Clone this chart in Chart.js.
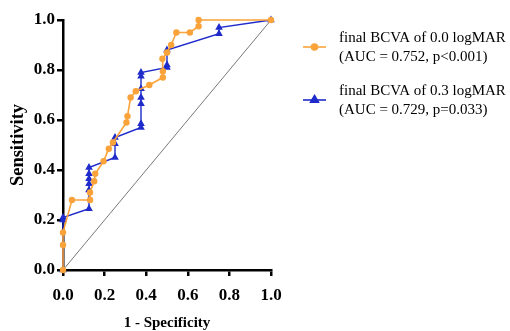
<!DOCTYPE html>
<html><head><meta charset="utf-8">
<script src="https://cdn.jsdelivr.net/npm/chart.js@4/dist/chart.umd.min.js"></script>
<style>html,body{margin:0;padding:0;background:#fff}#wrap{width:510px;height:331px;position:relative}</style>
</head><body><div id="wrap"><canvas id="c" width="510" height="331"></canvas></div>
<script>
const axisTicks = [0, 0.2, 0.4, 0.6, 0.8, 1.0];
const xTitle = "1 - Specificity";
const yTitle = "Sensitivity";
const seriesNames = [
  ["final BCVA of 0.0 logMAR", "(AUC = 0.752, p<0.001)"],
  ["final BCVA of 0.3 logMAR", "(AUC = 0.729, p=0.033)"]
];
const orangeFPR = [0, 0, 0, 0.043, 0.13, 0.13, 0.15, 0.155, 0.195, 0.22, 0.24, 0.305, 0.31, 0.325, 0.35, 0.415, 0.48, 0.48, 0.478, 0.50, 0.52, 0.545, 0.61, 0.652, 0.652, 1.0];
const orangeTPR = [0, 0.10, 0.15, 0.28, 0.28, 0.31, 0.355, 0.385, 0.435, 0.485, 0.51, 0.59, 0.615, 0.69, 0.715, 0.74, 0.77, 0.795, 0.845, 0.87, 0.90, 0.95, 0.95, 0.975, 1.0, 1.0];
const blueFPR = [0, 0, 0, 0.125, 0.125, 0.125, 0.125, 0.125, 0.125, 0.25, 0.25, 0.25, 0.375, 0.375, 0.375, 0.375, 0.375, 0.375, 0.375, 0.5, 0.5, 0.5, 0.75, 0.75, 1.0];
const blueTPR = [0, 0.20, 0.21, 0.245, 0.32, 0.345, 0.365, 0.385, 0.41, 0.45, 0.505, 0.53, 0.57, 0.585, 0.665, 0.69, 0.725, 0.775, 0.79, 0.81, 0.82, 0.88, 0.945, 0.97, 1.0];
const refFPR = [0, 1];
const refTPR = [0, 1];

const ORANGE = '#F9A33A';
const BLUE = '#1F2BCB';
const toPts = (xs, ys) => xs.map((x, i) => ({x: x, y: ys[i]}));

const serif = "'Liberation Serif', 'Times New Roman', serif";

const legendPlugin = {
  id: 'sideLegend',
  afterDraw(chart) {
    const ctx = chart.ctx;
    const entries = [
      {color: ORANGE, style: 'circle', radius: 3, y: 47, lines: seriesNames[0], top: 38},
      {color: BLUE, style: 'triangle', radius: 4.5, y: 100, lines: seriesNames[1], top: 91}
    ];
    ctx.save();
    entries.forEach(e => {
      ctx.strokeStyle = e.color;
      ctx.lineWidth = 1.6;
      ctx.beginPath();
      ctx.moveTo(303, e.y);
      ctx.lineTo(326, e.y);
      ctx.stroke();
      ctx.fillStyle = e.color;
      Chart.helpers.drawPoint(ctx, {pointStyle: e.style, radius: e.radius, borderWidth: 1, rotation: 0}, 314.5, e.y);
      ctx.fill();
      ctx.fillStyle = '#000';
      ctx.font = "15px " + serif;
      ctx.textBaseline = 'middle';
      ctx.textAlign = 'left';
      e.lines.forEach((t, i) => ctx.fillText(t, 339, e.top + i * 19));
    });
    ctx.restore();
  }
};

const axisCommon = {
  type: 'linear', min: 0, max: 1,
  border: {display: true, color: '#000', width: 2.5},
  grid: {drawOnChartArea: false, drawTicks: true, tickLength: 6, color: '#000', lineWidth: 2.5},
};

new Chart(document.getElementById('c'), {
  type: 'scatter',
  data: {
    datasets: [
      {label: seriesNames[0].join(' '), data: toPts(orangeFPR, orangeTPR), showLine: true,
       borderColor: ORANGE, backgroundColor: ORANGE, borderWidth: 1.6,
       pointStyle: 'circle', pointRadius: 3.2, pointBorderWidth: 0, clip: false, order: 1},
      {label: seriesNames[1].join(' '), data: toPts(blueFPR, blueTPR), showLine: true,
       borderColor: BLUE, backgroundColor: BLUE, borderWidth: 1.4,
       pointStyle: 'triangle', pointRadius: 4.4, pointBorderWidth: 0, clip: false, order: 2},
      {label: 'reference', data: toPts(refFPR, refTPR), showLine: true,
       borderColor: '#555', borderWidth: 0.8, pointRadius: 0, clip: false, order: 3}
    ]
  },
  options: {
    responsive: false, animation: false, devicePixelRatio: 1,
    layout: {padding: {left: 0, right: 239, top: 20, bottom: 0}},
    plugins: {legend: {display: false}, tooltip: {enabled: false}},
    scales: {
      x: Object.assign({}, axisCommon, {
        afterFit(s) { s.height = 61; },
        afterBuildTicks(s) { s.ticks = axisTicks.map(v => ({value: v})); },
        ticks: {color: '#000', padding: 9, font: {family: serif, size: 17, weight: 'bold'}, callback: v => v.toFixed(1), maxRotation: 0},
        title: {display: true, text: xTitle, color: '#000', font: {family: serif, size: 15, weight: 'bold', lineHeight: 1}, padding: {top: 0, bottom: 0}}
      }),
      y: Object.assign({}, axisCommon, {
        afterFit(s) { s.width = 63; },
        afterBuildTicks(s) { s.ticks = axisTicks.map(v => ({value: v})); },
        ticks: {color: '#000', padding: 2, font: {family: serif, size: 17, weight: 'bold'}, callback: v => v.toFixed(1)},
        title: {display: true, text: yTitle, color: '#000', font: {family: serif, size: 18.5, weight: 'bold', lineHeight: 1}, padding: {top: 9, bottom: 0}}
      })
    }
  },
  plugins: [legendPlugin]
});
</script>
</body></html>
